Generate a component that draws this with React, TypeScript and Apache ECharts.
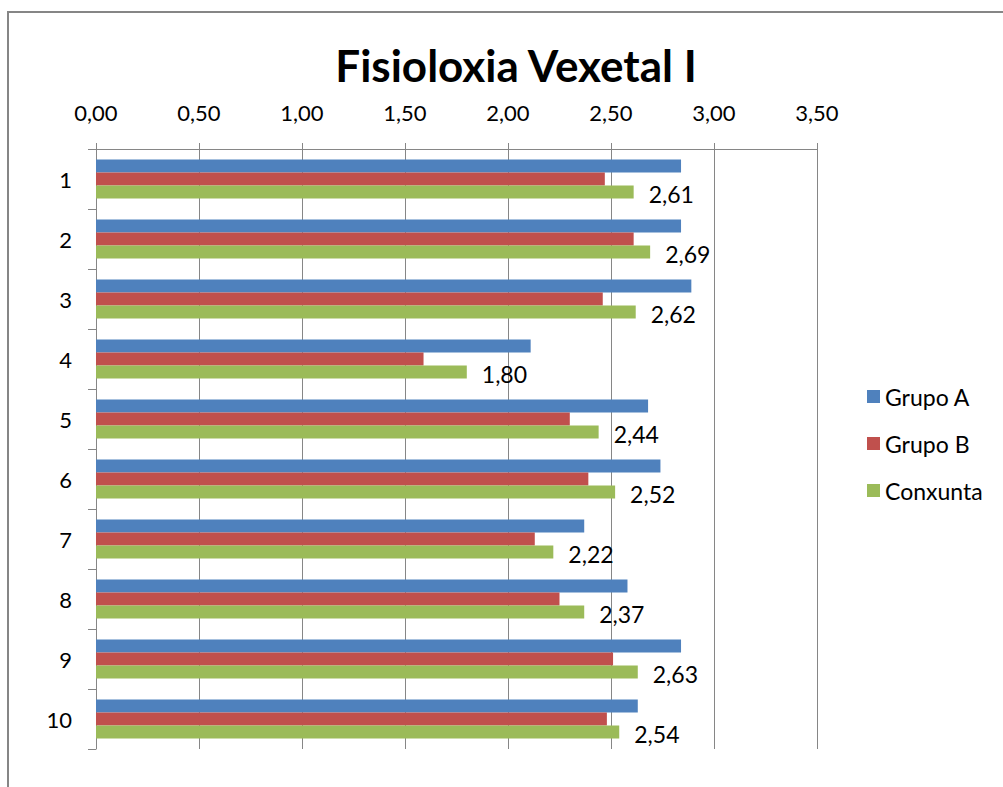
import React, { useEffect, useRef } from "react";
import * as echarts from "echarts";

const categories = ["1", "2", "3", "4", "5", "6", "7", "8", "9", "10"];
const grupoA = [2.84, 2.84, 2.89, 2.11, 2.68, 2.74, 2.37, 2.58, 2.84, 2.63];
const grupoB = [2.47, 2.61, 2.46, 1.59, 2.30, 2.39, 2.13, 2.25, 2.51, 2.48];
const conxunta = [2.61, 2.69, 2.62, 1.80, 2.44, 2.52, 2.22, 2.37, 2.63, 2.54];
const seriesNames = ["Grupo A", "Grupo B", "Conxunta"];
const colors = ["#4F81BD", "#C0504D", "#9BBB59"];

const fmt = (v: number) => v.toFixed(2).replace(".", ",");
const FONT = "Lato, 'Open Sans', sans-serif";

export default function App() {
  const ref = useRef<HTMLDivElement>(null);
  useEffect(() => {
    document.body.style.margin = "0";
    const chart = echarts.init(ref.current!, null, { renderer: "svg" });
    chart.setOption({
      animation: false,
      backgroundColor: "#ffffff",
      textStyle: { fontFamily: FONT },
      title: {
        text: "Fisioloxia Vexetal I",
        left: 511,
        textAlign: "center",
        top: 38,
        textStyle: { fontFamily: FONT, fontWeight: "bold", fontSize: 44, color: "#000" },
      },
      graphic: [
        {
          type: "rect",
          shape: { x: 8, y: 12, width: 1100, height: 900 },
          style: { fill: "none", stroke: "#868686", lineWidth: 2 },
          silent: true,
        },
      ],
      legend: {
        orient: "vertical",
        left: 862,
        top: 380,
        itemWidth: 13,
        itemHeight: 13,
        itemGap: 24,
        icon: "rect",
        textStyle: { fontFamily: FONT, fontSize: 23, color: "#000" },
        data: seriesNames,
      },
      grid: { left: 96, top: 149, width: 721, height: 600, containLabel: false },
      xAxis: {
        type: "value",
        position: "top",
        min: 0,
        max: 3.5,
        interval: 0.5,
        axisLine: { show: true, lineStyle: { color: "#868686", width: 1 } },
        axisTick: { show: true, length: 6, lineStyle: { color: "#868686" } },
        splitLine: { show: true, lineStyle: { color: "#868686", width: 1 } },
        axisLabel: {
          formatter: (v: number) => fmt(v),
          fontFamily: FONT,
          fontSize: 22,
          color: "#000",
          margin: 26,
        },
      },
      yAxis: {
        type: "category",
        inverse: true,
        data: categories,
        axisLine: { show: true, lineStyle: { color: "#868686", width: 1 } },
        axisTick: { show: true, length: 8, alignWithLabel: false, lineStyle: { color: "#868686" } },
        axisLabel: { fontFamily: FONT, fontSize: 22, color: "#000", margin: 24 },
      },
      series: [
        {
          name: seriesNames[0],
          type: "bar",
          data: grupoA,
          barWidth: 13,
          barGap: "0%",
          itemStyle: { color: colors[0] },
        },
        {
          name: seriesNames[1],
          type: "bar",
          data: grupoB,
          barWidth: 13,
          barGap: "0%",
          itemStyle: { color: colors[1] },
        },
        {
          name: seriesNames[2],
          type: "bar",
          data: conxunta,
          barWidth: 13,
          barGap: "0%",
          itemStyle: { color: colors[2] },
          label: {
            show: true,
            position: "right",
            distance: 15,
            offset: [0, 2],
            formatter: (p: any) => fmt(p.value),
            fontFamily: FONT,
            fontSize: 23,
            color: "#000",
          },
        },
      ],
    });
    return () => chart.dispose();
  }, []);
  return <div ref={ref} style={{ width: 1003, height: 787 }} />;
}
